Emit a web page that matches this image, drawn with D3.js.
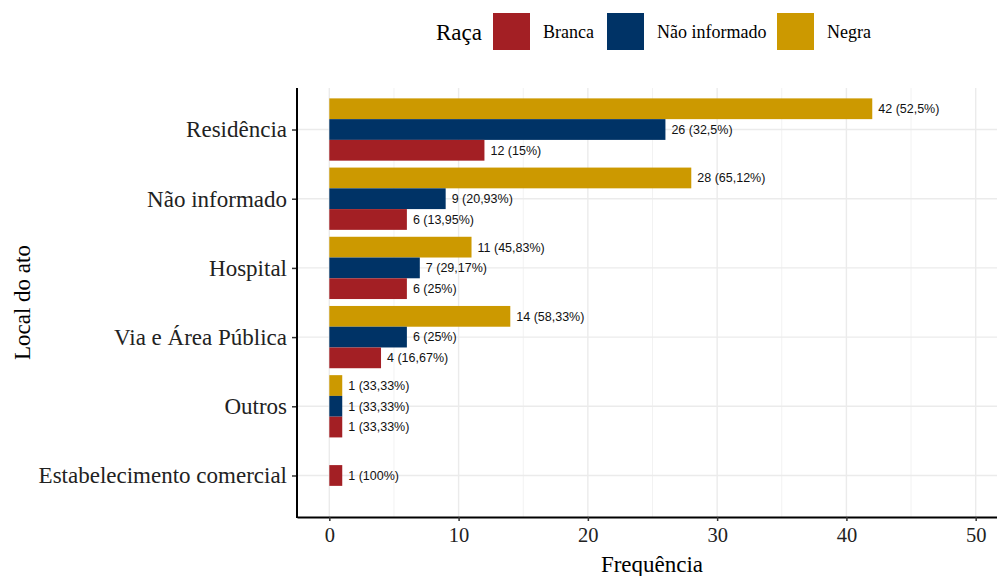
<!DOCTYPE html>
<html>
<head>
<meta charset="utf-8">
<script src="https://cdn.jsdelivr.net/npm/d3@7"></script>
<style>
  body { margin: 0; background: #fff; }
  svg { display: block; }
</style>
</head>
<body>
<svg id="chart"></svg>
<script>
// categories, top to bottom
const locais = ["Residência", "Não informado", "Hospital", "Via e Área Pública", "Outros", "Estabelecimento comercial"];
const racas = ["Negra", "Não informado", "Branca"];        // order in each group, top to bottom
const legendOrder = ["Branca", "Não informado", "Negra"];

const negra = [42, 28, 11, 14, 1, null];
const naoInformado = [26, 9, 7, 6, 1, null];
const branca = [12, 6, 6, 4, 1, 1];

const negraPct = ["52,5%", "65,12%", "45,83%", "58,33%", "33,33%", null];
const naoInfPct = ["32,5%", "20,93%", "29,17%", "25%", "33,33%", null];
const brancaPct = ["15%", "13,95%", "25%", "16,67%", "33,33%", "100%"];

const xTicks = [0, 10, 20, 30, 40, 50];
const xMinor = [5, 15, 25, 35, 45];

const colors = { "Branca": "#a31f24", "Não informado": "#003366", "Negra": "#cc9900" };

// build rows
let rows = [];
locais.forEach((l, i) => {
  const vals = { "Negra": [negra[i], negraPct[i]], "Não informado": [naoInformado[i], naoInfPct[i]], "Branca": [branca[i], brancaPct[i]] };
  const present = racas.filter(r => vals[r][0] != null);
  present.forEach((r, j) => rows.push({ local: l, raca: r, n: vals[r][0], pct: vals[r][1], k: present.length, idx: j }));
});

const W = 997, H = 576;
const margin = { top: 88, right: -11, bottom: 59, left: 297 };
const width = W - margin.left - margin.right;
const height = H - margin.top - margin.bottom;

const svg = d3.select("#chart").attr("width", W).attr("height", H);
const chart = svg.append("g").attr("transform", `translate(${margin.left},${margin.top})`);

const serif = "Liberation Serif, Times New Roman, serif";

const x = d3.scaleLinear().domain([-2.5, 52.5]).range([0, width]);
// discrete y with 0.6 expansion on each side
const step = height / 6.2;
const y = d3.scalePoint().domain(locais).range([step * 0.6, height - step * 0.6]);
const barH = step * 0.9 / 3;

// grid
chart.append("g").selectAll("line").data(xMinor).join("line")
  .attr("x1", d => x(d)).attr("x2", d => x(d)).attr("y1", 0).attr("y2", height)
  .attr("stroke", "#f2f2f2").attr("stroke-width", 1);
chart.append("g").selectAll("line").data(xTicks).join("line")
  .attr("x1", d => x(d)).attr("x2", d => x(d)).attr("y1", 0).attr("y2", height)
  .attr("stroke", "#ebebeb").attr("stroke-width", 1.4);
chart.append("g").selectAll("line").data(locais).join("line")
  .attr("x1", 0).attr("x2", width).attr("y1", d => y(d)).attr("y2", d => y(d))
  .attr("stroke", "#ebebeb").attr("stroke-width", 1.4);

// bars
const barY = d => y(d.local) - d.k * barH / 2 + d.idx * barH;

chart.selectAll(".bar").data(rows).join("rect")
  .attr("class", "bar")
  .attr("x", x(0))
  .attr("y", d => barY(d))
  .attr("width", d => x(d.n) - x(0))
  .attr("height", barH)
  .attr("fill", d => colors[d.raca]);

chart.selectAll(".labels").data(rows).join("text")
  .attr("class", "labels")
  .attr("x", d => x(d.n) + 6)
  .attr("y", d => barY(d) + barH / 2)
  .attr("dy", "0.35em")
  .attr("font-family", "Liberation Sans, Arial, sans-serif")
  .attr("font-size", "12.5px")
  .attr("fill", "#111")
  .text(d => `${d.n} (${d.pct})`);

// axes
const xAxis = chart.append("g").attr("transform", `translate(0,${height})`)
  .call(d3.axisBottom(x).tickValues(xTicks).tickSize(4).tickSizeOuter(0));
xAxis.select(".domain").attr("stroke", "#000").attr("stroke-width", 2);
xAxis.selectAll(".tick line").attr("stroke", "#333").attr("stroke-width", 1.5);
xAxis.selectAll("text").attr("font-family", serif)
  .attr("font-size", "20.5px").attr("fill", "#222").attr("dy", "0.9em");

const yAxis = chart.append("g")
  .call(d3.axisLeft(y).tickSize(5).tickSizeOuter(0));
yAxis.select(".domain").remove();
chart.append("line").attr("x1", 0).attr("x2", 0).attr("y1", 0).attr("y2", height + 1)
  .attr("stroke", "#000").attr("stroke-width", 2);
yAxis.selectAll(".tick line").attr("stroke", "#333").attr("stroke-width", 1.5);
yAxis.selectAll("text").attr("font-family", serif)
  .attr("font-size", "23px").attr("fill", "#222").attr("x", -10);

// axis titles
svg.append("text")
  .attr("x", 652).attr("y", 572)
  .attr("text-anchor", "middle")
  .attr("font-family", serif)
  .attr("font-size", "23px")
  .text("Frequência");

svg.append("text")
  .attr("transform", `translate(30,${margin.top + height / 2}) rotate(-90)`)
  .attr("text-anchor", "middle")
  .attr("font-family", serif)
  .attr("font-size", "23px")
  .text("Local do ato");

// legend
const legend = svg.append("g");
legend.append("text")
  .attr("x", 436).attr("y", 40)
  .attr("font-family", serif)
  .attr("font-size", "23px")
  .text("Raça");
const keyX = [493, 607, 777];
legendOrder.forEach((r, i) => {
  legend.append("rect")
    .attr("x", keyX[i]).attr("y", 13).attr("width", 37).attr("height", 37)
    .attr("fill", colors[r]);
  legend.append("text")
    .attr("x", keyX[i] + 50).attr("y", 38)
    .attr("font-family", serif)
    .attr("font-size", "18px")
    .text(r);
});
</script>
</body>
</html>
